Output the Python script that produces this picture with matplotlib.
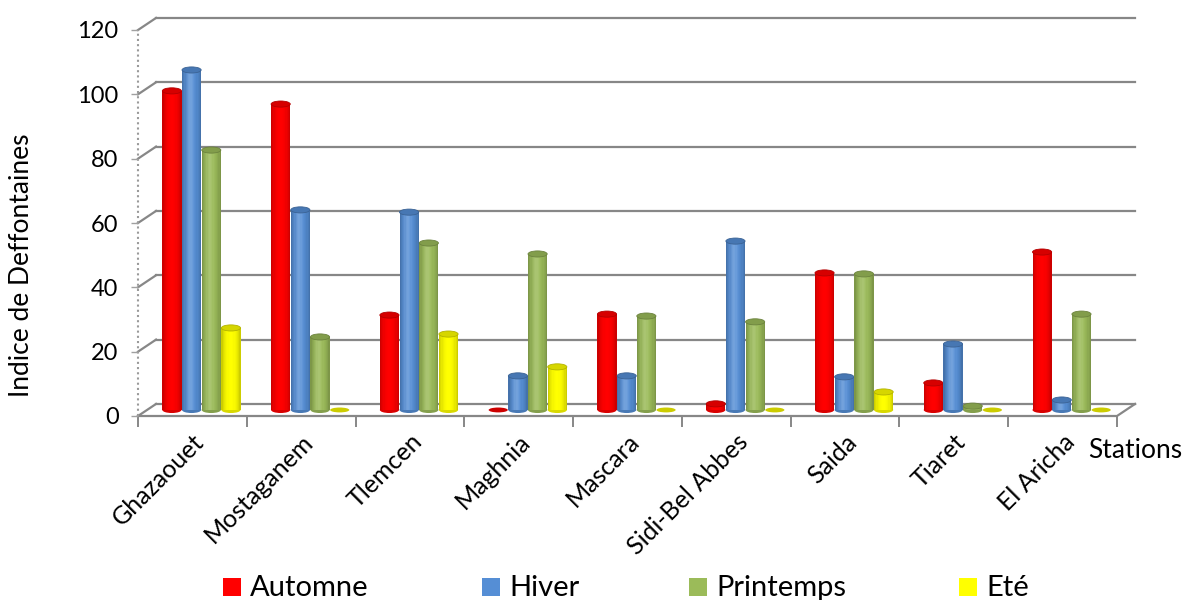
import numpy as np
import matplotlib
matplotlib.use("Agg")
import matplotlib.pyplot as plt
from matplotlib.patches import Ellipse, Rectangle
from matplotlib.colors import to_rgb

plt.rcParams['font.family'] = ['Lato', 'DejaVu Sans']

# ---------------------------------------------------------------- data
stations = ["Ghazaouet", "Mostaganem", "Tlemcen", "Maghnia", "Mascara",
            "Sidi-Bel Abbes", "Saida", "Tiaret", "El Aricha"]
seasons = ["Automne", "Hiver", "Printemps", "Eté"]
automne = [99.2, 95.1, 29.5, 0.0, 29.8, 1.9, 42.6, 8.4, 49.1]
hiver = [105.7, 62.2, 61.5, 10.6, 10.6, 52.5, 10.3, 20.5, 3.1]
printemps = [80.8, 22.7, 51.9, 48.5, 29.2, 27.4, 42.3, 1.2, 29.8]
ete = [25.5, 0.0, 23.6, 13.4, 0.0, 0.0, 5.6, 0.0, 0.0]
y_ticks = [0, 20, 40, 60, 80, 100, 120]

series = [automne, hiver, printemps, ete]
colors = ["#FF0000", "#558ED5", "#9BBB59", "#FFFF00"]
highlight = [0.0, 0.18, 0.15, 0.0]

GRID = "#878787"

# ---------------------------------------------------------------- figure / front plane
fig = plt.figure(figsize=(11.86, 6.0), dpi=100)
ax = fig.add_axes([138 / 1186, (600 - 416) / 600, (1117 - 138) / 1186, (416 - 30) / 600])
n_cat = len(stations)
ax.set_xlim(0, n_cat)
ax.set_ylim(0, 120)

# depth of the 3D box in data units (back wall = front + depth)
DEPTH_X = 0.166
DEPTH_Y = 3.75
MID_X, MID_Y = DEPTH_X / 2, DEPTH_Y / 2

for s in ax.spines.values():
    s.set_visible(False)

# back wall + side wall gridlines
for v in y_ticks:
    ax.plot([0, DEPTH_X], [v, v + DEPTH_Y], color=GRID, lw=1.6, clip_on=False, zorder=1)
    ax.plot([DEPTH_X, n_cat + DEPTH_X], [v + DEPTH_Y, v + DEPTH_Y],
            color=GRID, lw=1.6, clip_on=False, zorder=1)

# floor front and right edges
ax.plot([0, n_cat, n_cat + DEPTH_X], [0, 0, DEPTH_Y], color=GRID, lw=1.6,
        clip_on=False, zorder=1, solid_joinstyle='miter')

# dotted value axis
ax.plot([0, 0], [0, 120], color="#9a9a9a", lw=1.5, ls=(0, (1, 1.5)), clip_on=False, zorder=1)


# ---------------------------------------------------------------- cylinders
def shade(rgb, f, h):
    c = np.clip(np.array(rgb) * f, 0, 1)
    return tuple(c + (1 - c) * h)


def cylinder(xc, w, v, base_color, hl):
    rgb = to_rgb(base_color)
    base = MID_Y
    eh = 1.9
    n = 16
    edges = np.linspace(xc - w / 2, xc + w / 2, n + 1)
    t = (np.arange(n) + 0.5) / n
    fac = 0.74 + 0.26 * np.sin(np.pi * t) ** 0.6
    glow = hl * np.exp(-((t - 0.42) / 0.18) ** 2)
    strip_cols = [shade(rgb, f, g) for f, g in zip(fac, glow)]
    if v <= 0.05:
        ax.add_patch(Ellipse((xc, base), w, eh * 0.8, facecolor=shade(rgb, 0.8, 0),
                             edgecolor='none', clip_on=False, zorder=3))
        return
    ax.add_patch(Ellipse((xc, base), w, eh, facecolor=shade(rgb, 0.85, 0),
                         edgecolor='none', clip_on=False, zorder=3))
    ax.bar(edges[:-1], [v] * n, width=(w / n) * 1.08, bottom=base, align='edge',
           color=strip_cols, linewidth=0, clip_on=False, zorder=3)
    ax.add_patch(Ellipse((xc, base + v), w, eh, facecolor=shade(rgb, 0.84, 0),
                         edgecolor=shade(rgb, 0.7, 0), lw=0.6, clip_on=False, zorder=3))


bar_w = 0.176
pitch = 0.181
for i in range(n_cat):
    for j, vals in enumerate(series):
        xc = i + 0.5 + MID_X + (j - 1.5) * pitch
        cylinder(xc, bar_w, vals[i], colors[j], highlight[j])

# ---------------------------------------------------------------- axes text
ax.set_yticks(y_ticks)
ax.set_yticklabels([str(v) for v in y_ticks], fontsize=17)
ax.tick_params(axis='y', length=5, width=1, color="#a0a0a0", pad=9)

ax.set_xticks(range(n_cat + 1))
ax.set_xticklabels([])
ax.tick_params(axis='x', which='major', length=8, width=1.4, color=GRID)
ax.set_xticks([i + 0.5 for i in range(n_cat)], minor=True)
ax.set_xticklabels(stations, minor=True, rotation=45, ha='right',
                   rotation_mode='anchor', fontsize=18)
ax.tick_params(axis='x', which='minor', length=0, pad=10)

fig.text(22 / 1186, 1 - 265 / 600, "Indice de Deffontaines", fontsize=19,
         rotation=90, ha='center', va='center')
fig.text(1088 / 1186, 1 - 450 / 600, "Stations", fontsize=19, va='center', ha='left')

# ---------------------------------------------------------------- legend
leg_x = [223, 482, 689, 959]
for x, name, c in zip(leg_x, seasons, colors):
    fig.patches.append(Rectangle((x / 1186, 1 - 596 / 600), 18 / 1186, 18 / 600,
                                 transform=fig.transFigure, facecolor=c, edgecolor='none'))
    fig.text((x + 27) / 1186, 1 - 596 / 600, name, fontsize=21, va='baseline', ha='left')

fig.savefig("out.png", dpi=100)
